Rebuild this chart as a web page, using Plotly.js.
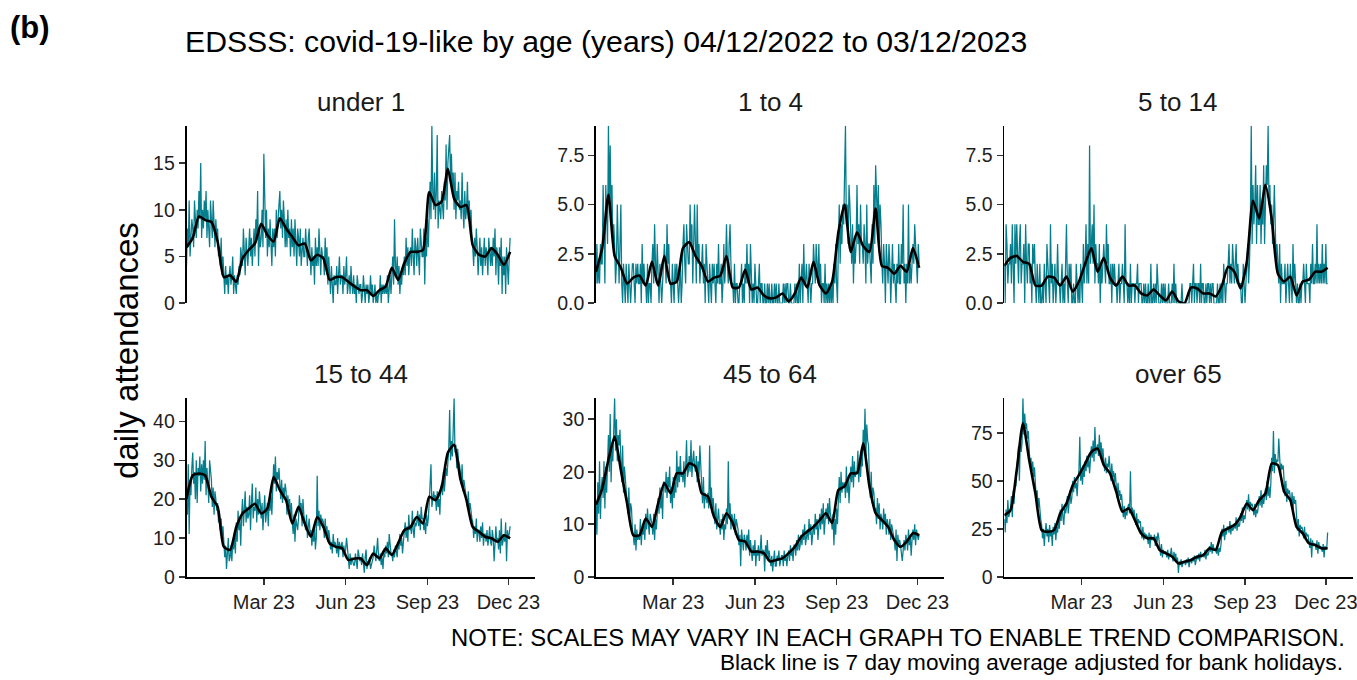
<!DOCTYPE html>
<html>
<head>
<meta charset="utf-8">
<script src="https://cdn.plot.ly/plotly-3.0.1.min.js"></script>
<style>html,body{margin:0;padding:0;background:#fff}#chart{width:1357px;height:680px}</style>
</head>
<body>
<div id="chart"></div>
<script>
// ---------------- DATA ----------------
const startDate = '2022-12-04';   // first day (04/12/2022), daily to 03/12/2023
const avgStepDays = 7;            // moving-average values read once a week

const panelTitles = ['under 1', '1 to 4', '5 to 14', '15 to 44', '45 to 64', 'over 65'];
const xTickDates = ['2023-03-01', '2023-06-01', '2023-09-01', '2023-12-01'];
const xTickLabels = ['Mar 23', 'Jun 23', 'Sep 23', 'Dec 23'];

const under1Daily = [
 4,8,6,11,5,7,9, 8,6,11,9,7,10,8, 12,9,15,7,10,8,11, 9,12,7,10,8,6,11,
 9,7,11,8,6,9,7, 8,5,6,4,7,3,5, 3,1,4,2,3,1,3, 4,2,3,5,1,3,2,
 1,3,2,4,3,6,5, 4,8,6,3,7,5,4, 6,8,5,7,4,6,8, 5,9,7,12,4,8,6,
 7,10,6,16,9,7,10, 5,8,6,9,7,4,8, 6,8,5,10,7,9,11, 12,8,10,7,11,9,6,
 9,6,10,7,8,5,9, 6,8,5,9,7,4,8, 7,5,8,4,6,7,5, 5,8,6,4,7,8,5,
 3,6,4,5,2,7,4, 6,4,8,5,3,6,5, 5,3,7,4,6,2,5, 3,1,4,2,0,3,2,
 2,4,1,3,5,2,3, 3,1,4,2,3,5,1, 2,3,1,4,2,1,3, 1,2,0,3,2,1,2,
 2,0,1,3,1,0,2, 1,2,0,1,3,1,2, 0,1,2,0,1,0,1, 1,3,0,2,1,2,1,
 2,1,3,0,2,3,1, 3,5,2,9,4,3,5, 2,4,1,3,2,4,3, 5,3,7,4,6,3,5,
 6,4,8,5,3,7,6, 4,7,5,3,8,6,5, 5,8,2,7,5,9,6, 11,13,9,19,12,10,14,
 9,12,18,8,11,10,9, 12,10,9,13,11,17,10, 15,17,18,13,16,12,14, 10,14,9,12,11,13,10,
 11,9,14,10,8,12,9, 10,13,9,11,8,10,7, 6,4,7,5,8,6,3, 5,7,4,6,3,5,7,
 4,6,5,3,7,5,4, 6,4,7,5,8,3,6, 5,2,6,4,7,1,5, 3,5,1,6,4,2,5,
 7
];
const under1Avg = [6.0,7.0,9.3,8.9,8.7,6.6,2.8,3.0,2.3,4.8,5.7,6.4,8.5,7.3,6.6,9.1,8.0,7.1,6.2,6.4,4.6,5.2,4.8,2.5,2.8,2.8,2.3,1.8,1.4,1.4,0.8,1.4,1.8,3.8,2.5,4.3,5.5,5.5,5.7,11.9,10.5,10.9,14.4,11.2,10.3,10.5,6.2,5.2,5.0,5.9,5.2,4.1,5.5];

const age1to4Daily = [
 1,3,1,2,1,3,2, 2,6,3,1,6,4,3, 9,5,8,4,6,3,4, 3,1,2,5,2,1,3,
 5,1,0,2,1,0,2, 1,0,2,1,0,1,2, 2,1,0,2,1,2,1, 1,2,0,3,1,2,1,
 1,0,2,0,1,1,0, 2,3,1,4,2,1,3, 1,0,2,1,0,1,2, 3,2,1,4,2,3,1,
 1,0,2,1,0,2,1, 2,1,0,1,2,0,1, 3,4,2,1,4,3,2, 2,5,3,4,1,3,5,
 3,1,5,2,3,1,2, 2,3,1,2,0,3,2, 1,0,2,1,0,2,1, 2,1,0,2,1,3,1,
 1,2,0,1,3,1,2, 4,2,1,3,4,2,1, 1,0,2,0,1,1,0, 0,1,1,2,0,1,0,
 2,1,3,1,2,0,3, 1,0,1,0,2,1,0, 0,1,2,0,1,1,0, 0,1,0,0,1,0,1,
 0,0,1,0,0,1,0, 1,0,0,1,0,0,0, 0,1,0,1,0,1,1, 0,0,1,0,0,0,0,
 1,0,1,0,0,2,0, 1,2,0,3,1,1,2, 1,0,2,1,0,1,1, 3,2,1,3,2,1,3,
 1,2,0,1,1,0,2, 0,1,0,1,0,1,0, 1,0,2,1,3,1,0, 3,5,2,4,3,5,4,
 6,9,4,5,3,6,5, 3,2,4,1,3,2,3, 6,3,4,2,5,3,3, 2,4,3,1,5,2,3,
 3,2,1,4,2,6,3, 7,5,4,6,3,5,4, 2,1,3,2,0,3,2, 1,3,2,0,2,3,1,
 2,1,0,2,1,3,1, 1,3,2,5,1,2,0, 2,1,5,1,2,1,2, 3,2,4,3,2,1,3,
 2
];
const age1to4Avg = [1.6,2.8,5.5,2.4,1.8,1.0,1.3,1.4,0.9,2.1,0.9,2.4,1.0,1.1,2.8,3.1,2.4,1.9,1.1,1.3,1.4,2.4,0.8,0.8,1.7,0.7,0.8,0.4,0.25,0.3,0.5,0.1,0.5,1.3,0.8,2.1,0.9,0.5,1.1,3.6,5.0,2.6,3.6,2.9,2.6,4.8,1.9,1.8,1.5,1.9,1.6,2.8,1.8];

const age5to14Daily = [
 2,0,4,3,1,2,2, 3,1,4,2,0,4,2, 4,2,1,3,4,1,2, 2,3,0,4,2,1,3,
 3,1,2,0,3,2,3, 1,0,2,1,0,2,0, 0,1,0,2,1,0,3, 2,1,0,4,1,2,0,
 1,2,0,1,3,1,1, 0,1,2,0,1,0,2, 4,1,0,2,1,2,0, 0,1,0,0,2,1,0,
 1,0,2,1,0,3,1, 2,4,1,3,1,8,2, 3,4,2,5,1,3,2, 2,1,3,0,2,1,2,
 3,2,1,4,2,3,1, 1,2,0,2,1,2,1, 1,0,1,2,0,1,1, 2,1,0,4,1,1,0,
 1,0,2,0,1,1,1, 0,1,1,2,0,1,1, 1,0,0,1,0,1,0, 0,1,0,0,2,0,0,
 1,0,1,0,2,1,0, 0,0,1,0,1,0,1, 0,0,0,1,0,0,0, 1,0,2,0,1,0,0,
 0,0,0,0,1,0,0, 0,0,0,0,0,0,1, 1,0,1,2,0,1,1, 0,1,1,0,2,0,1,
 1,0,0,1,0,1,1, 0,1,0,1,1,0,0, 0,0,1,0,0,1,0, 1,0,2,1,0,1,1,
 2,3,1,2,1,3,2, 1,2,3,1,2,1,1, 1,0,0,2,1,0,1, 2,3,1,2,4,9,3,
 6,4,5,7,3,6,4, 4,6,3,5,4,7,3, 5,7,6,9,5,6,4, 5,3,4,6,4,2,3,
 2,1,3,0,2,1,1, 1,2,0,1,2,1,0, 2,1,0,3,1,2,1, 0,1,0,0,1,0,1,
 1,2,1,0,2,1,1, 1,0,2,1,3,1,1, 2,1,4,1,2,1,2, 1,3,1,2,1,3,1,
 1
];
const age5to14Avg = [1.9,2.3,2.4,2.1,2.0,0.9,0.9,1.35,1.3,0.9,1.35,0.6,1.1,2.0,2.8,1.6,2.3,1.3,0.9,1.35,0.9,0.9,0.5,0.4,0.7,0.4,0.15,0.6,0.1,0.0,0.8,0.75,0.5,0.5,0.35,0.9,1.85,1.6,0.75,2.1,5.2,4.3,6.0,4.3,1.5,1.1,1.35,0.4,1.1,1.2,1.6,1.6,1.8];

const age15to44Daily = [
 23,16,29,11,25,21,28, 32,24,27,20,30,19,28, 26,31,22,29,24,30,25, 35,21,28,24,19,30,27,
 25,18,23,16,22,20,17, 19,14,17,12,15,10,13, 9,5,8,2,6,10,4, 5,8,4,9,7,11,6,
 14,9,17,12,15,8,16, 20,13,17,22,14,18,15, 16,21,12,19,24,15,18, 17,23,14,20,16,22,19,
 15,19,12,17,21,14,16, 19,13,20,17,21,16,22, 29,24,31,22,27,25,28, 24,20,25,19,23,21,24,
 22,16,21,18,20,15,19, 14,11,16,9,15,13,12, 15,21,17,19,13,20,16, 14,12,16,10,13,15,11,
 12,8,11,9,13,7,10, 26,13,17,12,16,14,15, 14,10,15,11,13,9,12, 10,7,9,6,11,8,9,
 8,6,10,5,9,7,8, 9,5,8,6,7,10,6, 5,2,6,3,5,4,3, 3,6,4,2,7,5,4,
 5,3,6,4,1,5,7, 2,4,3,5,2,3,4, 5,8,6,4,7,10,5, 4,6,3,5,2,6,5,
 8,6,9,5,11,7,6, 6,4,7,5,8,6,5, 9,7,11,8,10,6,9, 11,14,10,13,9,16,12,
 13,11,17,12,10,14,13, 14,17,13,16,12,18,15, 15,12,14,11,16,13,15, 19,23,29,18,21,22,20,
 21,17,22,18,20,16,23, 24,21,27,22,25,28,26, 29,33,43,30,35,31,38, 46,32,34,28,33,30,29,
 27,24,29,22,25,23,21, 20,18,22,17,19,16,15, 14,10,13,11,15,9,12, 12,9,13,10,14,8,11,
 11,9,12,8,10,13,9, 8,12,10,4,11,13,9, 10,7,12,6,15,8,9, 11,9,14,4,12,10,11,
 13
];
const age15to44Avg = [20.1,26.1,26.6,26.1,20.6,18.0,7.7,6.9,12.8,16.3,17.6,18.8,16.3,17.6,25.7,22.3,19.7,13.7,18.0,13.7,10.3,15.4,12.8,8.6,7.7,7.3,4.3,4.7,4.7,3.0,6.0,4.7,7.3,5.6,8.6,12.0,12.8,15.4,13.7,20.6,19.7,23.1,32.0,34.0,25.3,19.7,12.8,11.6,10.3,9.9,9.0,10.7,9.9];

const age45to64Daily = [
 14,8,18,12,22,11,17, 19,15,22,13,21,16,25, 27,20,31,18,25,22,29, 34,24,30,22,27,25,28,
 22,18,25,16,21,19,17, 15,12,17,11,14,13,9, 8,6,10,5,9,7,8, 7,11,6,9,8,10,7,
 12,9,13,10,8,12,11, 10,8,12,7,11,9,13, 15,12,17,13,16,11,18, 18,16,20,15,19,17,21,
 14,17,13,19,15,18,16, 24,17,21,18,23,19,20, 18,22,17,21,26,19,20, 23,20,26,19,22,24,21,
 20,23,18,22,19,25,21, 17,14,19,13,16,15,14, 16,13,25,14,17,12,15, 12,10,14,9,11,13,10,
 8,11,9,12,7,10,9, 13,10,22,11,14,9,12, 11,9,12,8,11,10,9, 6,8,2,9,7,5,8,
 7,5,8,6,9,4,7, 5,3,6,4,7,2,5, 4,6,3,5,8,4,5, 5,1,6,4,7,3,5,
 3,2,4,1,3,5,2, 2,4,3,5,2,3,4, 4,2,5,3,4,2,4, 5,3,6,4,5,3,6,
 6,4,7,5,8,5,6, 8,6,9,7,10,6,8, 9,7,11,8,10,6,9, 10,8,12,9,11,7,10,
 12,9,13,10,14,8,11, 13,11,14,10,15,12,11, 9,12,6,11,8,13,10, 15,19,14,20,16,18,17,
 18,15,21,16,19,14,17, 21,18,23,17,22,19,20, 20,24,18,22,19,23,21, 28,24,32,23,29,26,25,
 18,15,20,14,17,16,13, 13,10,15,11,14,9,12, 11,9,13,10,12,8,11, 10,8,11,7,10,9,8,
 7,5,9,3,8,6,7, 6,4,3,5,7,5,8, 7,5,9,6,8,4,7, 9,7,10,6,9,8,7,
 8
];
const age45to64Avg = [13.7,16.8,22.3,26.7,20.3,14.0,7.9,7.9,11.1,9.5,14.0,17.8,15.9,19.7,19.7,21.6,21.0,15.9,15.3,11.4,9.5,12.1,10.2,7.0,6.7,4.8,4.8,4.5,2.9,3.2,3.5,4.5,5.7,7.6,8.6,9.5,10.8,12.1,10.2,16.5,17.2,19.7,19.7,25.4,17.2,12.1,10.8,9.5,7.0,5.7,6.7,8.3,7.9];

const over65Daily = [
 30,23,35,28,40,31,33, 36,42,31,45,38,50,47, 55,62,68,50,72,65,70, 93,74,85,77,80,72,76,
 66,58,62,55,60,52,57, 48,40,45,36,41,33,30, 27,20,25,16,23,28,21, 25,18,27,21,24,16,26,
 22,28,19,26,23,30,25, 35,29,38,31,27,36,33, 36,42,33,40,45,38,41, 50,44,52,46,49,42,51,
 55,73,50,56,48,58,52, 60,55,63,57,62,54,61, 68,62,71,60,78,64,66, 69,63,74,65,70,61,67,
 60,55,62,54,59,57,63, 56,50,59,52,55,49,54, 47,41,49,42,45,40,43, 35,31,37,30,34,32,36,
 38,33,55,34,36,31,35, 31,27,33,26,30,28,29, 24,20,26,19,23,21,22, 21,17,23,15,22,19,20,
 19,22,16,21,18,23,20, 15,11,17,10,14,12,13, 13,10,14,9,12,11,15, 11,8,13,9,12,7,10,
 2,8,6,9,5,7,8, 8,6,9,7,10,5,8, 9,7,10,8,11,6,9, 11,9,12,8,13,10,11,
 12,10,14,9,13,11,12, 16,13,18,12,17,14,15, 14,12,16,11,15,13,17, 25,21,27,19,24,22,26,
 26,23,29,22,27,24,25, 28,25,31,24,29,26,27, 33,29,36,28,32,30,34, 40,35,43,34,39,37,38,
 36,32,38,31,35,33,37, 42,37,45,36,41,38,44, 46,40,50,42,47,41,48, 62,55,76,54,64,58,61,
 60,72,62,53,59,56,58, 47,42,50,39,46,43,45, 41,37,44,35,42,38,40, 28,24,30,21,27,25,26,
 24,20,26,19,23,21,22, 18,15,20,10,19,16,17, 17,14,19,12,18,15,16, 15,13,17,10,16,14,15,
 23
];
const over65Avg = [32,34.7,55.6,80,60.8,43.4,24.3,23.4,24.3,33,38.2,47.7,53,59,65,66.8,58.2,53.8,44.3,33.9,35.6,29.5,22.6,20,20,13.9,12.2,10.4,6.9,7.8,8.7,10.4,11.3,14.8,13.9,23.4,25.2,26.9,31.3,38.2,34.7,39.9,43.4,59,58.2,44.3,39.9,26,22.6,17.4,16.5,14.8,14.8];

const dailySeries = [under1Daily, age1to4Daily, age5to14Daily, age15to44Daily, age45to64Daily, over65Daily];
const avgSeries = [under1Avg, age1to4Avg, age5to14Avg, age15to44Avg, age45to64Avg, over65Avg];

// ---------------- STYLE / LAYOUT ----------------
const W = 1357, H = 680;
const FONT = 'Liberation Sans, Arial, Helvetica, sans-serif';
const TEAL = '#047D8C';
const TICKTXT = '#1e1e1e';
const xRange = ['2022-12-04', '2023-12-31'];
const yRanges = [[0, 19], [0, 9], [0, 9], [0, 46], [0, 34], [0, 93]];
const yDticks = [5, 2.5, 2.5, 10, 10, 25];
const yFormats = ['', '.1f', '.1f', '', '', ''];
// panel boxes in pixels: [left, right] and [top, bottom]
const panelX = [[186.5, 535], [596, 944], [1004.3, 1352.5]];
const panelY = [[125.7, 303.3], [398.3, 576.7]];

function dates(n, step) {
  const [y, m, d] = startDate.split('-').map(Number);
  const out = [];
  for (let i = 0; i < n; i++) {
    out.push(new Date(Date.UTC(y, m - 1, d + i * step)).toISOString().slice(0, 10));
  }
  return out;
}
const fx = px => px / W;
const fy = py => 1 - py / H;

const traces = [];
const layout = {
  width: W, height: H,
  margin: {l: 0, r: 0, t: 0, b: 0},
  paper_bgcolor: '#ffffff', plot_bgcolor: '#ffffff',
  showlegend: false,
  font: {family: FONT, size: 20, color: TICKTXT},
  annotations: []
};

for (let i = 0; i < 6; i++) {
  const row = Math.floor(i / 3), col = i % 3;
  const sfx = i === 0 ? '' : String(i + 1);
  const xa = 'x' + sfx, ya = 'y' + sfx;
  traces.push({
    type: 'scatter', mode: 'lines', x: dates(dailySeries[i].length, 1), y: dailySeries[i],
    xaxis: xa, yaxis: ya, line: {color: TEAL, width: 1.25}, hoverinfo: 'skip'
  });
  traces.push({
    type: 'scatter', mode: 'lines', x: dates(avgSeries[i].length, avgStepDays), y: avgSeries[i],
    xaxis: xa, yaxis: ya, line: {color: '#000000', width: 2.6, shape: 'spline', smoothing: 0.6}, hoverinfo: 'skip'
  });
  const bottom = row === 1;
  layout['xaxis' + sfx] = {
    domain: [fx(panelX[col][0]), fx(panelX[col][1])],
    anchor: ya, type: 'date', range: xRange,
    showgrid: false, zeroline: false,
    showline: bottom, linecolor: '#000000', linewidth: 1.8,
    ticks: bottom ? 'outside' : '', ticklen: 6, tickwidth: 1.6, tickcolor: '#333333',
    tickmode: 'array', tickvals: xTickDates, ticktext: xTickLabels,
    showticklabels: bottom, ticklabeloverflow: 'allow',
    tickfont: {family: FONT, size: 20, color: TICKTXT},
    fixedrange: true
  };
  layout['yaxis' + sfx] = {
    domain: [fy(panelY[row][1]), fy(panelY[row][0])],
    anchor: xa, range: yRanges[i],
    showgrid: false, zeroline: false,
    showline: true, linecolor: '#000000', linewidth: 1.8,
    ticks: 'outside', ticklen: 6, tickwidth: 1.6, tickcolor: '#333333',
    tickmode: 'linear', tick0: 0, dtick: yDticks[i], tickformat: yFormats[i],
    tickfont: {family: FONT, size: 19.5, color: TICKTXT},
    fixedrange: true
  };
  layout.annotations.push({
    xref: 'paper', yref: 'paper',
    x: fx((panelX[col][0] + panelX[col][1]) / 2), y: fy(row === 0 ? 101.7 : 374),
    xanchor: 'center', yanchor: 'middle', showarrow: false,
    text: panelTitles[i], font: {family: FONT, size: 26, color: '#1a1a1a'}
  });
}

layout.annotations.push(
  {xref: 'paper', yref: 'paper', x: fx(8), y: fy(28), xanchor: 'left', yanchor: 'middle', showarrow: false,
   text: '<b>(b)</b>', font: {family: FONT, size: 31, color: '#000000'}},
  {xref: 'paper', yref: 'paper', x: fx(183), y: fy(41), xanchor: 'left', yanchor: 'middle', showarrow: false,
   text: 'EDSSS: covid-19-like by age (years) 04/12/2022 to 03/12/2023', font: {family: FONT, size: 30.2, color: '#000000'}},
  {xref: 'paper', yref: 'paper', x: fx(126), y: fy(351), xanchor: 'center', yanchor: 'middle', showarrow: false,
   textangle: -90, text: 'daily attendances', font: {family: FONT, size: 33, color: '#000000'}},
  {xref: 'paper', yref: 'paper', x: fx(1347), y: fy(637.5), xanchor: 'right', yanchor: 'middle', showarrow: false,
   text: 'NOTE: SCALES MAY VARY IN EACH GRAPH TO ENABLE TREND COMPARISON.', font: {family: FONT, size: 23.8, color: '#000000'}},
  {xref: 'paper', yref: 'paper', x: fx(1345), y: fy(662.5), xanchor: 'right', yanchor: 'middle', showarrow: false,
   text: 'Black line is 7 day moving average adjusted for bank holidays.', font: {family: FONT, size: 22.6, color: '#000000'}}
);

Plotly.newPlot('chart', traces, layout, {staticPlot: true, displayModeBar: false});
</script>
</body>
</html>
